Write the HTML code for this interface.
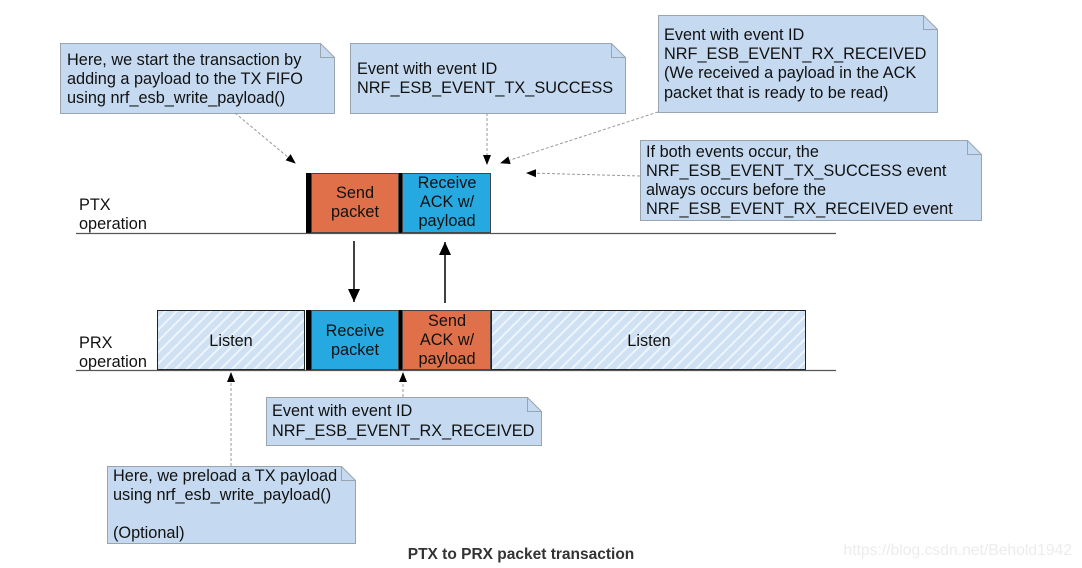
<!DOCTYPE html>
<html><head><meta charset="utf-8"><style>
html,body{margin:0;padding:0;background:#fff;}
svg{display:block;font-family:"Liberation Sans",Arial,sans-serif;}
</style></head><body>
<svg width="1082" height="568" viewBox="0 0 1082 568" xmlns="http://www.w3.org/2000/svg">
<defs>
<pattern id="h" width="8" height="8" patternUnits="userSpaceOnUse" patternTransform="rotate(45)">
<rect width="8" height="8" fill="#cfe1f3"/><rect width="2" height="8" fill="#eef4fb"/>
</pattern>
<marker id="a" markerWidth="10" markerHeight="10" refX="9" refY="5" orient="auto" markerUnits="userSpaceOnUse"><path d="M0,1 L10,5 L0,9 z" fill="#000"/></marker>
<marker id="b" markerWidth="14" markerHeight="14" refX="13" refY="6" orient="auto" markerUnits="userSpaceOnUse"><path d="M0,0 L13,6 L0,12 z" fill="#000"/></marker>
</defs>
<g font-size="16.3" fill="#111">
<g fill="#c5daf0" stroke="#9aa4ae" stroke-width="1">
<path d="M60.5,43.5 H320.5 L334.5,57.5 V113.5 H60.5 Z"/>
<path d="M350.5,43.5 H611.5 L625.5,57.5 V113.5 H350.5 Z"/>
<path d="M658.5,15.5 H923.5 L937.5,29.5 V112.5 H658.5 Z"/>
<path d="M640.5,140.5 H967.5 L981.5,154.5 V220.5 H640.5 Z"/>
<path d="M266.5,397.5 H527.5 L541.5,411.5 V445.5 H266.5 Z"/>
<path d="M107.5,466.5 H341.5 L355.5,480.5 V543.5 H107.5 Z"/>
</g>
<g fill="none" stroke="#9aa4ae"><path d="M320.5,43.5 V57.5 H334.5"/><path d="M611.5,43.5 V57.5 H625.5"/><path d="M923.5,15.5 V29.5 H937.5"/><path d="M967.5,140.5 V154.5 H981.5"/><path d="M527.5,397.5 V411.5 H541.5"/><path d="M341.5,466.5 V480.5 H355.5"/></g>
<text x="67" y="65">Here, we start the transaction by</text>
<text x="67" y="84">adding a payload to the TX FIFO</text>
<text x="67" y="103">using nrf_esb_write_payload()</text>
<text x="357" y="74">Event with event ID</text>
<text x="357" y="93">NRF_ESB_EVENT_TX_SUCCESS</text>
<text x="664" y="40">Event with event ID</text>
<text x="664" y="59">NRF_ESB_EVENT_RX_RECEIVED</text>
<text x="664" y="78">(We received a payload in the ACK</text>
<text x="664" y="98">packet that is ready to be read)</text>
<text x="646" y="157">If both events occur, the</text>
<text x="646" y="176">NRF_ESB_EVENT_TX_SUCCESS event</text>
<text x="646" y="195">always occurs before the</text>
<text x="646" y="214">NRF_ESB_EVENT_RX_RECEIVED event</text>
<text x="272" y="416">Event with event ID</text>
<text x="272" y="436">NRF_ESB_EVENT_RX_RECEIVED</text>
<text x="113" y="481">Here, we preload a TX payload</text>
<text x="113" y="500">using nrf_esb_write_payload()</text>
<text x="113" y="538">(Optional)</text>
<g stroke="#999" stroke-width="1" stroke-dasharray="3,2" fill="none">
<line x1="235" y1="113" x2="295" y2="163" marker-end="url(#a)"/>
<line x1="487" y1="113" x2="487" y2="164" marker-end="url(#a)"/>
<line x1="658" y1="112" x2="501" y2="163" marker-end="url(#a)"/>
<line x1="640" y1="176" x2="527" y2="173" marker-end="url(#a)"/>
<line x1="403" y1="397" x2="403" y2="373" marker-end="url(#a)"/>
<line x1="231" y1="466" x2="231" y2="373" marker-end="url(#a)"/>
</g>
<text x="79" y="210">PTX</text><text x="79" y="229">operation</text>
<text x="79" y="348">PRX</text><text x="79" y="367">operation</text>
<rect x="306" y="173" width="5" height="60" fill="#000"/>
<rect x="311.5" y="173.5" width="87" height="59" fill="#e0704a" stroke="#444"/>
<rect x="399" y="173" width="3" height="60" fill="#000"/>
<rect x="402.5" y="173.5" width="88" height="59" fill="#25a9e0" stroke="#444"/>
<g text-anchor="middle">
<text x="355" y="198">Send</text><text x="355" y="217">packet</text>
<text x="447" y="188">Receive</text><text x="447" y="207">ACK w/</text><text x="447" y="226">payload</text>
</g>
<rect x="157.5" y="310.5" width="147" height="59" fill="url(#h)" stroke="#222"/>
<rect x="306" y="310" width="5" height="60" fill="#000"/>
<rect x="311.5" y="310.5" width="87" height="59" fill="#25a9e0" stroke="#444"/>
<rect x="399" y="310" width="3" height="60" fill="#000"/>
<rect x="402.5" y="310.5" width="88" height="59" fill="#e0704a" stroke="#444"/>
<rect x="491.5" y="310.5" width="314" height="59" fill="url(#h)" stroke="#222"/>
<g text-anchor="middle">
<text x="231" y="346">Listen</text>
<text x="355" y="336">Receive</text><text x="355" y="355">packet</text>
<text x="447" y="326">Send</text><text x="447" y="345">ACK w/</text><text x="447" y="364">payload</text>
<text x="649" y="346">Listen</text>
</g>
<line x1="76" y1="233.5" x2="836" y2="233.5" stroke="#555" stroke-width="1.3"/>
<line x1="76" y1="370.5" x2="836" y2="370.5" stroke="#555" stroke-width="1.3"/>
<line x1="354" y1="241" x2="354" y2="302" stroke="#000" stroke-width="1.5" marker-end="url(#b)"/>
<line x1="445" y1="303" x2="445" y2="242" stroke="#000" stroke-width="1.5" marker-end="url(#b)"/>
<text x="521" y="559" text-anchor="middle" font-weight="bold" font-size="15.5" fill="#333">PTX to PRX packet transaction</text>
<text x="1072" y="555" text-anchor="end" font-size="15.7" fill="#ececec">https://blog.csdn.net/Behold1942</text>
</g>
</svg>
</body></html>
